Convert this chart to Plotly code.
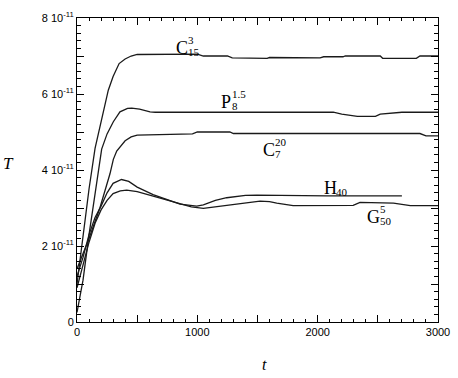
import plotly.graph_objects as go

# T values are in units of 1e-11
SCALE = 1e-11

t_c15 = [0, 25, 60, 100, 150, 216, 260, 300, 350, 400, 450, 500, 700, 1000, 1050, 1250, 1290,
         1580, 1600, 2020, 2050, 2210, 2230, 2520, 2540, 2820, 2850, 3000]
T_c15 = [1.0, 1.65, 2.6, 3.5, 4.57, 5.53, 6.1, 6.46, 6.8, 6.92, 7.0, 7.04, 7.05, 7.05, 7.0, 7.0, 6.95,
         6.94, 6.96, 6.95, 6.98, 6.98, 7.0, 7.0, 6.94, 6.94, 7.0, 7.0]

t_p8 = [0, 50, 100, 150, 205, 250, 302, 357, 420, 455, 520, 607, 650, 2130, 2200, 2330, 2480,
        2520, 2700, 3000]
T_p8 = [0.25, 1.1, 2.3, 3.4, 4.55, 4.95, 5.27, 5.53, 5.62, 5.63, 5.6, 5.53, 5.52, 5.52, 5.47, 5.41, 5.41,
        5.47, 5.52, 5.52]

t_c7 = [0, 100, 190, 274, 302, 330, 400, 450, 500, 600, 960, 1000, 1270, 1300, 2850, 2900, 3000]
T_c7 = [1.4, 2.2, 3.0, 3.9, 4.28, 4.5, 4.77, 4.87, 4.92, 4.93, 4.95, 5.0, 5.0, 4.96, 4.96, 4.9, 4.9]

t_h40 = [0, 50, 100, 150, 200, 250, 300, 370, 430, 500, 632, 750, 856, 995, 1050, 1150, 1244,
         1400, 1494, 2075, 2700]
T_h40 = [1.2, 1.7, 2.3, 2.75, 3.05, 3.4, 3.65, 3.75, 3.7, 3.55, 3.35, 3.22, 3.1, 3.05, 3.08, 3.2, 3.27,
         3.33, 3.34, 3.32, 3.32]

t_g50 = [0, 50, 100, 150, 200, 250, 300, 360, 413, 500, 632, 750, 856, 950, 1050, 1150, 1244,
         1400, 1521, 1600, 1660, 1796, 2295, 2352, 2630, 2770, 3000]
T_g50 = [0.9, 1.5, 2.1, 2.6, 2.95, 3.2, 3.38, 3.45, 3.47, 3.43, 3.31, 3.2, 3.1, 3.03, 2.99, 3.03, 3.08,
         3.14, 3.18, 3.17, 3.13, 3.06, 3.07, 3.15, 3.13, 3.06, 3.06]

curves = [(t_c15, T_c15), (t_p8, T_p8), (t_c7, T_c7), (t_h40, T_h40), (t_g50, T_g50)]

# curve labels: (letter, sup, sub, t, T)
labels = [
    ('C', '3', '15', 870, 7.22),
    ('P', '1.5', '8', 1238, 5.80),
    ('C', '20', '7', 1596, 4.52),
    ('H', '', '40', 2103, 3.53),
    ('G', '5', '50', 2468, 2.76),
]

x_ticks = [0, 500, 1000, 1500, 2000, 2500, 3000]
x_text = ['0', '', '1000', '', '2000', '', '3000']
y_ticks = [0, 1, 2, 3, 4, 5, 6, 7, 8]
y_text = ['0', '', '2 10<sup>-11</sup>', '', '4 10<sup>-11</sup>', '',
          '6 10<sup>-11</sup>', '', '8 10<sup>-11</sup>']

fig = go.Figure()
for tt, TT in curves:
    fig.add_trace(go.Scatter(x=tt, y=[v * SCALE for v in TT], mode='lines',
                             line=dict(color='#1a1a1a', width=1.3), showlegend=False))

serif = 'Liberation Serif'
for letter, sup, sub, tx, ty in labels:
    fig.add_annotation(x=tx, y=ty * SCALE, text=letter, showarrow=False,
                       font=dict(family=serif, size=18, color='black'),
                       xanchor='center', yanchor='middle')
    if sup:
        fig.add_annotation(x=tx, y=ty * SCALE, text=sup, showarrow=False,
                           font=dict(family=serif, size=11, color='black'),
                           xanchor='left', yanchor='middle', xshift=4, yshift=8)
    if sub:
        fig.add_annotation(x=tx, y=ty * SCALE, text=sub, showarrow=False,
                           font=dict(family=serif, size=11, color='black'),
                           xanchor='left', yanchor='middle', xshift=4, yshift=-4)

fig.add_annotation(xref='paper', yref='paper', x=-0.21, y=0.52, text='<i>T</i>',
                   showarrow=False, font=dict(family=serif, size=17, color='black'))
fig.add_annotation(xref='paper', yref='paper', x=0.52, y=-0.14, text='<i>t</i>',
                   showarrow=False, font=dict(family=serif, size=16, color='black'),
                   yanchor='middle')

fig.update_xaxes(range=[0, 3000], tickvals=x_ticks, ticktext=x_text, automargin=False,
                 ticks='inside', ticklen=7, tickcolor='black', mirror='ticks',
                 showline=True, linecolor='black', linewidth=1, showgrid=False, zeroline=False,
                 minor=dict(dtick=100, ticks='inside', ticklen=3, tickcolor='black'),
                 tickfont=dict(family='Liberation Sans', size=11, color='black'))
fig.update_yaxes(range=[0, 8e-11], tickvals=[v * SCALE for v in y_ticks], ticktext=y_text,
                 automargin=False,
                 ticks='inside', ticklen=7, tickcolor='black', mirror='ticks',
                 showline=True, linecolor='black', linewidth=1, showgrid=False, zeroline=False,
                 minor=dict(dtick=0.2e-11, ticks='inside', ticklen=4, tickcolor='black'),
                 tickfont=dict(family='Liberation Sans', size=11, color='black'))

fig.update_layout(width=458, height=378, plot_bgcolor='white', paper_bgcolor='white',
                  margin=dict(l=77, r=20, t=18, b=56))

# drop the page's default body margin so the figure sits at the window's corner
fig.write_html("out.html", config={'displayModeBar': False},
               post_script="document.body.style.margin='0';")
